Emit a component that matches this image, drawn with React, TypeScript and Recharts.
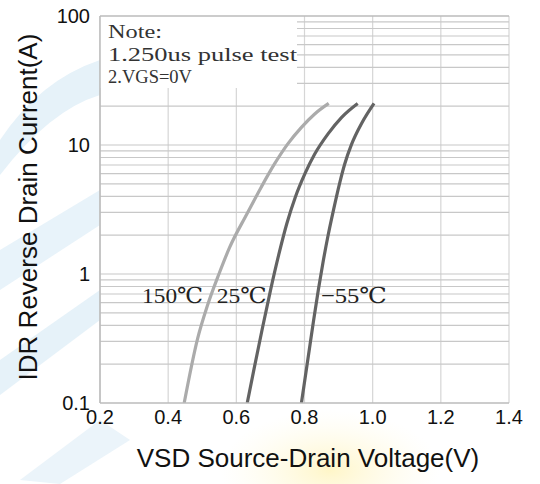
import React from 'react';
import {
  LineChart,
  Line,
  XAxis,
  YAxis,
  CartesianGrid,
  ReferenceArea,
  ReferenceDot,
  ReferenceLine,
  Label,
} from 'recharts';

// VSD (V) vs IDR (A)
const hot150 = [
  { v: 0.447, i: 0.1 },
  { v: 0.486, i: 0.313 },
  { v: 0.515, i: 0.567 },
  { v: 0.549, i: 1.0 },
  { v: 0.58, i: 1.6 },
  { v: 0.631, i: 2.92 },
  { v: 0.673, i: 4.71 },
  { v: 0.712, i: 7.13 },
  { v: 0.751, i: 10.2 },
  { v: 0.791, i: 13.7 },
  { v: 0.83, i: 17.4 },
  { v: 0.871, i: 21.0 },
];

const room25 = [
  { v: 0.632, i: 0.1 },
  { v: 0.652, i: 0.184 },
  { v: 0.676, i: 0.375 },
  { v: 0.701, i: 0.764 },
  { v: 0.725, i: 1.43 },
  { v: 0.748, i: 2.45 },
  { v: 0.773, i: 3.94 },
  { v: 0.801, i: 5.97 },
  { v: 0.83, i: 8.51 },
  { v: 0.869, i: 12.2 },
  { v: 0.909, i: 16.4 },
  { v: 0.956, i: 21.0 },
];

const cold55 = [
  { v: 0.791, i: 0.1 },
  { v: 0.811, i: 0.228 },
  { v: 0.826, i: 0.425 },
  { v: 0.841, i: 0.764 },
  { v: 0.855, i: 1.26 },
  { v: 0.869, i: 1.98 },
  { v: 0.885, i: 3.13 },
  { v: 0.903, i: 5.05 },
  { v: 0.918, i: 7.13 },
  { v: 0.938, i: 10.1 },
  { v: 0.967, i: 14.6 },
  { v: 1.004, i: 21.0 },
];

const xTicks = [0.2, 0.4, 0.6, 0.8, 1.0, 1.2, 1.4];
const yTicks = [0.1, 1, 10, 100];
const yGrid = [
  0.2, 0.3, 0.4, 0.5, 0.6, 0.7, 0.8, 0.9,
  1, 2, 3, 4, 5, 6, 7, 8, 9,
  10, 20, 30, 40, 50, 60, 70, 80, 90, 100,
];

// note box sits in the top-left corner of the plot
const noteBox = { x1: 0.2, x2: 0.778, y1: 27.7, y2: 100 };
const noteLines = ['Note:', '1.250us pulse test', '2.VGS=0V'];
const noteWidths = [54, 189, 84];

const curveLabels = [
  { text: '150℃', v: 0.413, i: 0.6, w: 61 },
  { text: '25℃', v: 0.616, i: 0.6, w: 50 },
  { text: '−55℃', v: 0.945, i: 0.6, w: 66 },
];

const sans = '"Liberation Sans", Arial, sans-serif';
const serif = '"Liberation Serif", "DejaVu Serif", serif';

const NoteText = (props: any) => {
  const vb = props.viewBox || {};
  return (
    <g>
      {noteLines.map((t, k) => (
        <text
          key={t}
          x={vb.x + 8}
          y={vb.y + 22 + k * 22.5}
          fontFamily={serif}
          fontSize={19}
          fill="#333"
          textLength={noteWidths[k]}
          lengthAdjust="spacingAndGlyphs"
        >
          {t}
        </text>
      ))}
    </g>
  );
};

const App: React.FC = () => {
  return (
    <div style={{ position: 'absolute', left: 0, top: 0, width: 540, height: 484, background: '#fff', overflow: 'hidden' }}>
      {/* faint logo watermark behind the chart */}
      <svg width={540} height={484} style={{ position: 'absolute', left: 0, top: 0 }}>
        <defs>
          <radialGradient id="yel" cx="50%" cy="50%" r="50%">
            <stop offset="0%" stopColor="#fff6c8" />
            <stop offset="100%" stopColor="#fffbe8" stopOpacity={0} />
          </radialGradient>
        </defs>
        <path d="M0 140 Q40 80 100 60 L100 95 Q50 110 0 175 Z" fill="#e6f2f9" />
        <path d="M0 250 L100 190 L100 225 L0 290 Z" fill="#e8f3fa" />
        <path d="M0 360 L100 290 L100 320 L0 395 Z" fill="#e6f2f9" />
        <path d="M20 480 L100 420 L130 440 L60 484 Z" fill="#ebf4fa" />
        <ellipse cx={330} cy={470} rx={110} ry={60} fill="url(#yel)" />
      </svg>
      <LineChart
        width={540}
        height={484}
        margin={{ top: 16, right: 31, left: 0, bottom: 0 }}
        style={{ position: 'absolute', left: 0, top: 0 }}
      >
        <CartesianGrid stroke="#d6d6d6" strokeWidth={1.2} fill="#fff" horizontal={false} verticalValues={xTicks} />
        <XAxis
          type="number"
          dataKey="v"
          domain={[0.2, 1.4]}
          ticks={xTicks}
          tickFormatter={(t: number) => t.toFixed(1)}
          allowDataOverflow
          height={81}
          axisLine={{ stroke: '#bbb', strokeWidth: 1.5 }}
          tickLine={false}
          tickSize={0}
          tickMargin={7}
          tick={{ fontSize: 20, fill: '#111', fontFamily: sans }}
        >
          <Label
            content={() => (
              <text x={308} y={467} textAnchor="middle" fontFamily={sans} fontSize={26} fill="#111">
                VSD Source-Drain Voltage(V)
              </text>
            )}
          />
        </XAxis>
        <YAxis
          type="number"
          dataKey="i"
          scale="log"
          domain={[0.1, 100]}
          ticks={yTicks}
          allowDataOverflow
          width={100}
          axisLine={{ stroke: '#bbb', strokeWidth: 1.5 }}
          tickLine={false}
          tickSize={0}
          tickMargin={10}
          tick={{ fontSize: 20, fill: '#111', fontFamily: sans }}
        >
          <Label
            content={() => (
              <text
                x={37}
                y={207}
                transform="rotate(-90 37 207)"
                textAnchor="middle"
                fontFamily={sans}
                fontSize={26}
                fill="#111"
              >
                IDR Reverse Drain Current(A)
              </text>
            )}
          />
        </YAxis>
        <ReferenceArea
          x1={noteBox.x1}
          x2={noteBox.x2}
          y1={noteBox.y1}
          y2={noteBox.y2}
          fill="#fff"
          fillOpacity={1}
          stroke="none"
          label={<NoteText />}
        />
        {yGrid.map((g) => {
          const hidden = g > noteBox.y1 && g < noteBox.y2;
          return (
            <ReferenceLine
              key={`h-${g}`}
              segment={[
                { x: hidden ? noteBox.x2 : 0.2, y: g },
                { x: 1.4, y: g },
              ]}
              stroke={g === 100 ? '#bbb' : '#c8c8c8'}
              strokeWidth={g === 100 ? 1.5 : 1.2}
            />
          );
        })}
        <Line data={hot150} dataKey="i" type="monotone" stroke="#ababab" strokeWidth={3.2} dot={false} isAnimationActive={false} />
        <Line data={room25} dataKey="i" type="monotone" stroke="#636363" strokeWidth={3.2} dot={false} isAnimationActive={false} />
        <Line data={cold55} dataKey="i" type="monotone" stroke="#636363" strokeWidth={3.2} dot={false} isAnimationActive={false} />
        {curveLabels.map((c) => (
          <ReferenceDot
            key={c.text}
            x={c.v}
            y={c.i}
            r={0}
            shape={(p: any) => (
              <text
                x={p.cx}
                y={p.cy}
                textAnchor="middle"
                fontFamily={serif}
                fontSize={22}
                fill="#222"
                textLength={c.w}
                lengthAdjust="spacingAndGlyphs"
              >
                {c.text}
              </text>
            )}
          />
        ))}
      </LineChart>
    </div>
  );
};

export default App;
